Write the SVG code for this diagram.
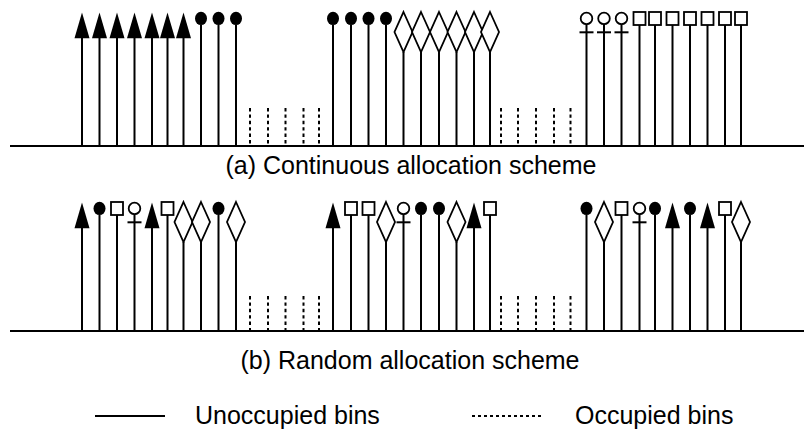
<svg xmlns="http://www.w3.org/2000/svg" xmlns:xlink="http://www.w3.org/1999/xlink" width="804" height="432" viewBox="0 0 804 432">
  <style>
    .axis { stroke: #000; stroke-width: 2; fill: none; }
    .stem { stroke: #000; stroke-width: 2; fill: none; }
    .occ { stroke: #000; stroke-width: 2; stroke-dasharray: 3.4 3; fill: none; }
    .solid { fill: #000; stroke: none; }
    .open { fill: #fff; stroke: #000; stroke-width: 1.8; }
    .cap { font-family: "Liberation Sans", Arial, sans-serif; font-size: 25px; fill: #000; }
    .key { font-family: "Liberation Sans", Arial, sans-serif; font-size: 25px; fill: #000; }
  </style>
  <defs>
    <!-- bin heads, origin at the stem x and the top of the head -->
    <polygon id="tri" class="solid" points="0,0.5 -7.5,26.3 7.5,26.3"/>
    <ellipse id="circ" class="solid" cx="0" cy="6.4" rx="6" ry="6.7"/>
    <polygon id="dia" class="open" points="0,0 9,20 0,40 -9,20"/>
    <g id="fem">
      <circle class="open" cx="0" cy="6.4" r="5.8"/>
      <line class="stem" x1="-7" y1="20.3" x2="7" y2="20.3"/>
    </g>
    <rect id="sq" class="open" x="-6" y="0" width="12" height="13"/>
  </defs>

  <!-- (a) continuous allocation -->
  <g id="panel-a">
    <line class="axis" x1="10" y1="146" x2="804" y2="146"/>
    <g id="a-occupied">
      <path class="occ" d="M250,108V146M268,108V146M285.5,108V146M303.5,108V146M319,108V146M501,108V146M518,108V146M536,108V146M554,108V146M570.5,108V146"/>
    </g>
    <g id="a-stems">
      <path class="stem" d="M82,38V146M99.5,38V146M117,38V146M134.5,38V146M152,38V146M167.5,38V146M183.5,38V146M201,25V146M218.5,25V146M236,25V146
        M333,25V146M351,25V146M368.5,25V146M386,25V146M403.5,52V146M421,52V146M439,52V146M456.5,52V146M474,52V146M490,52V146
        M586.5,24V146M604,24V146M621.5,24V146M639.5,25V146M655,25V146M672.5,25V146M690,25V146M707.5,25V146M725,25V146M741,25V146"/>
    </g>
    <g id="a-heads">
      <use xlink:href="#tri" x="82" y="12"/>
      <use xlink:href="#tri" x="99.5" y="12"/>
      <use xlink:href="#tri" x="117" y="12"/>
      <use xlink:href="#tri" x="134.5" y="12"/>
      <use xlink:href="#tri" x="152" y="12"/>
      <use xlink:href="#tri" x="167.5" y="12"/>
      <use xlink:href="#tri" x="183.5" y="12"/>
      <use xlink:href="#circ" x="201" y="12"/>
      <use xlink:href="#circ" x="218.5" y="12"/>
      <use xlink:href="#circ" x="236" y="12"/>
      <use xlink:href="#circ" x="333" y="12"/>
      <use xlink:href="#circ" x="351" y="12"/>
      <use xlink:href="#circ" x="368.5" y="12"/>
      <use xlink:href="#circ" x="386" y="12"/>
      <use xlink:href="#dia" x="403.5" y="12"/>
      <use xlink:href="#dia" x="421" y="12"/>
      <use xlink:href="#dia" x="439" y="12"/>
      <use xlink:href="#dia" x="456.5" y="12"/>
      <use xlink:href="#dia" x="474" y="12"/>
      <use xlink:href="#dia" x="490" y="12"/>
      <use xlink:href="#fem" x="586.5" y="12"/>
      <use xlink:href="#fem" x="604" y="12"/>
      <use xlink:href="#fem" x="621.5" y="12"/>
      <use xlink:href="#sq" x="639.5" y="12"/>
      <use xlink:href="#sq" x="655" y="12"/>
      <use xlink:href="#sq" x="672.5" y="12"/>
      <use xlink:href="#sq" x="690" y="12"/>
      <use xlink:href="#sq" x="707.5" y="12"/>
      <use xlink:href="#sq" x="725" y="12"/>
      <use xlink:href="#sq" x="741" y="12"/>
    </g>
    <text class="cap" x="411" y="174" text-anchor="middle">(a) Continuous allocation scheme</text>
  </g>

  <!-- (b) random allocation -->
  <g id="panel-b">
    <line class="axis" x1="10" y1="331" x2="804" y2="331"/>
    <g id="b-occupied">
      <path class="occ" d="M250,296V331M268,296V331M285.5,296V331M303.5,296V331M319,296V331M501,296V331M518,296V331M536,296V331M554,296V331M570.5,296V331"/>
    </g>
    <g id="b-stems">
      <path class="stem" d="M82,228V331M99.5,215V331M117,215V331M134.5,214V331M152,228V331M167.5,215V331M183.5,242V331M201,242V331M218.5,215V331M236,242V331
        M333,228V331M351,215V331M368.5,215V331M386,242V331M403.5,214V331M421,215V331M439,215V331M456.5,242V331M474,228V331M490,215V331
        M586.5,215V331M604,242V331M621.5,215V331M639.5,214V331M655,215V331M672.5,228V331M690,215V331M707.5,228V331M725,215V331M741,242V331"/>
    </g>
    <g id="b-heads">
      <use xlink:href="#tri" x="82" y="202"/>
      <use xlink:href="#circ" x="99.5" y="202"/>
      <use xlink:href="#sq" x="117" y="202"/>
      <use xlink:href="#fem" x="134.5" y="202"/>
      <use xlink:href="#tri" x="152" y="202"/>
      <use xlink:href="#sq" x="167.5" y="202"/>
      <use xlink:href="#dia" x="183.5" y="202"/>
      <use xlink:href="#dia" x="201" y="202"/>
      <use xlink:href="#circ" x="218.5" y="202"/>
      <use xlink:href="#dia" x="236" y="202"/>
      <use xlink:href="#tri" x="333" y="202"/>
      <use xlink:href="#sq" x="351" y="202"/>
      <use xlink:href="#sq" x="368.5" y="202"/>
      <use xlink:href="#dia" x="386" y="202"/>
      <use xlink:href="#fem" x="403.5" y="202"/>
      <use xlink:href="#circ" x="421" y="202"/>
      <use xlink:href="#circ" x="439" y="202"/>
      <use xlink:href="#dia" x="456.5" y="202"/>
      <use xlink:href="#tri" x="474" y="202"/>
      <use xlink:href="#sq" x="490" y="202"/>
      <use xlink:href="#circ" x="586.5" y="202"/>
      <use xlink:href="#dia" x="604" y="202"/>
      <use xlink:href="#sq" x="621.5" y="202"/>
      <use xlink:href="#fem" x="639.5" y="202"/>
      <use xlink:href="#circ" x="655" y="202"/>
      <use xlink:href="#tri" x="672.5" y="202"/>
      <use xlink:href="#circ" x="690" y="202"/>
      <use xlink:href="#tri" x="707.5" y="202"/>
      <use xlink:href="#sq" x="725" y="202"/>
      <use xlink:href="#dia" x="741" y="202"/>
    </g>
    <text class="cap" x="410" y="369" text-anchor="middle">(b) Random allocation scheme</text>
  </g>

  <!-- legend -->
  <g id="legend">
    <line class="stem" x1="95" y1="416" x2="165" y2="416"/>
    <text class="key" x="195" y="424">Unoccupied bins</text>
    <line class="stem" x1="472" y1="416" x2="543" y2="416" stroke-dasharray="3 3"/>
    <text class="key" x="575" y="424">Occupied bins</text>
  </g>
</svg>
